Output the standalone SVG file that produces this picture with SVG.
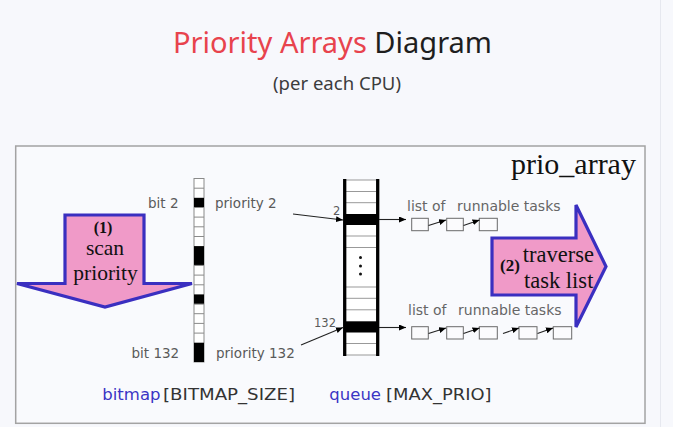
<svg xmlns="http://www.w3.org/2000/svg" width="673" height="427" viewBox="0 0 673 427">
<defs>
<style>
.lbl{font-family:"DejaVu Sans",sans-serif;font-size:13.5px;fill:#5a5a5a}
.sm{font-family:"DejaVu Sans",sans-serif;font-size:11.5px;fill:#5a5a5a}
.lst{font-family:"DejaVu Sans",sans-serif;font-size:14px;fill:#666}
.arr{font-family:"DejaVu Sans",sans-serif;font-size:16.5px}
.tm{font-family:"Liberation Serif",serif;fill:#111}
.big{fill:#f09ac8;stroke:#3a2fc0;stroke-width:3.2}
.cell{fill:none;stroke:#8a8a8a;stroke-width:1}
.qline{fill:none;stroke:#999;stroke-width:1}
.box{fill:#fbfbfd;stroke:#6a6a6a;stroke-width:1}
.con{fill:none;stroke:#222;stroke-width:1.1}
</style>
<marker id="ah" markerUnits="userSpaceOnUse" markerWidth="8" markerHeight="7" refX="7" refY="3" orient="auto">
<path d="M0,0 L7,3 L0,6 z" fill="#000"/>
</marker>
</defs>
<rect x="0" y="0" width="673" height="427" fill="#f7f8fc"/>
<line x1="660.5" y1="0" x2="660.5" y2="427" stroke="#e6e8ef" stroke-width="1"/>

<g id="title">
<text x="173" y="53" font-family="'Noto Sans',sans-serif" font-size="29" textLength="319" lengthAdjust="spacingAndGlyphs"><tspan fill="#e8434d">Priority Arrays</tspan><tspan fill="#1e1e1e"> Diagram</tspan></text>
</g>
<g id="subtitle">
<text x="273" y="90" font-family="'Noto Sans',sans-serif" font-size="18.5" fill="#3c3c3c" textLength="128" lengthAdjust="spacingAndGlyphs">(per each CPU)</text>
</g>

<g id="prio_array">
<rect x="15.7" y="146" width="629.3" height="277.3" fill="#f9fafd" stroke="#a3a3a3" stroke-width="1.5"/>
<text class="tm" x="511" y="173.5" font-size="30">prio_array</text>
</g>

<g id="scan_arrow">
<polygon class="big" points="65,215 144,215 144,283.5 192,283.5 105,307 17,283.5 65,283.5"/>
<text class="tm" x="103" y="232.5" font-size="16" font-weight="bold" text-anchor="middle">(1)</text>
<text class="tm" x="105" y="255" font-size="21.5" text-anchor="middle">scan</text>
<text class="tm" x="105.5" y="279.5" font-size="21.5" text-anchor="middle">priority</text>
</g>

<g id="bitmap">
<rect x="194" y="178.5" width="10" height="183.5" fill="#fff" stroke="#8a8a8a" stroke-width="1"/>
<rect x="194" y="197.8" width="10" height="9.7" fill="#000"/>
<rect x="194" y="246.1" width="10" height="19.3" fill="#000"/>
<rect x="194" y="294.4" width="10" height="9.7" fill="#000"/>
<rect x="194" y="342.7" width="10" height="19.3" fill="#000"/>
<path class="cell" d="M194,188.2h10M194,207.5h10M194,217.1h10M194,226.8h10M194,236.5h10M194,265.4h10M194,275.1h10M194,284.8h10M194,304.1h10M194,313.7h10M194,323.4h10M194,333.1h10"/>
<text class="lbl" x="148" y="208.3">bit 2</text>
<text class="lbl" x="215" y="208.3">priority 2</text>
<text class="lbl" x="131.5" y="358.3">bit 132</text>
<text class="lbl" x="216" y="358.3">priority 132</text>
<text class="arr" x="102.3" y="400" fill="#3b35c4">bitmap</text>
<text class="arr" x="163" y="400" fill="#333" textLength="132" lengthAdjust="spacingAndGlyphs">[BITMAP_SIZE]</text>
</g>

<g id="queue">
<rect x="346" y="180" width="30" height="175" fill="#fff"/>
<rect x="345" y="214" width="32" height="11" fill="#000"/>
<rect x="345" y="321.3" width="32" height="11.2" fill="#000"/>
<path class="qline" d="M346,180h30M346,191.5h30M346,202.7h30M346,236h30M346,247.5h30M346,287h30M346,298.3h30M346,309.8h30M346,343.5h30M346,355h30"/>
<line x1="344.7" y1="179" x2="344.7" y2="356" stroke="#000" stroke-width="3.3"/>
<line x1="377.7" y1="179" x2="377.7" y2="356" stroke="#000" stroke-width="3.3"/>
<circle cx="360.5" cy="257.5" r="1.5" fill="#111"/>
<circle cx="360.5" cy="266" r="1.5" fill="#111"/>
<circle cx="360.5" cy="274" r="1.5" fill="#111"/>
<text class="sm" x="333" y="214.5">2</text>
<text class="sm" x="314" y="327">132</text>
<text class="arr" x="329.3" y="400" fill="#3b35c4">queue</text>
<text class="arr" x="386" y="400" fill="#333" textLength="105.5" lengthAdjust="spacingAndGlyphs">[MAX_PRIO]</text>
</g>

<g id="list_2">
<text class="lst" x="407" y="210.7">list of</text>
<text class="lst" x="457" y="210.7">runnable tasks</text>
<rect class="box" x="411.7" y="218.3" width="16.6" height="12.4"/>
<rect class="box" x="446.7" y="218.3" width="16.6" height="12.4"/>
<rect class="box" x="479.3" y="218.3" width="18" height="12.4"/>
</g>

<g id="list_132">
<text class="lst" x="408" y="315">list of</text>
<text class="lst" x="458" y="315">runnable tasks</text>
<rect class="box" x="411.7" y="326.7" width="16.6" height="12.3"/>
<rect class="box" x="446.7" y="326.7" width="16.6" height="12.3"/>
<rect class="box" x="479.3" y="326.7" width="18" height="12.3"/>
<rect class="box" x="519" y="326.7" width="18" height="12.3"/>
<rect class="box" x="553.3" y="326.7" width="18.4" height="12.3"/>
</g>

<g id="traverse_arrow">
<polygon class="big" points="492,238 576,238 576,205 606,266.5 576,327 576,295 492,295"/>
<text class="tm" x="500" y="270.5" font-size="17" font-weight="bold">(2)</text>
<text class="tm" x="522.7" y="261.5" font-size="22.5">traverse</text>
<text class="tm" x="524" y="287.5" font-size="22.5">task list</text>
</g>

<g id="connectors">
<line class="con" x1="293" y1="214" x2="343" y2="220" marker-end="url(#ah)"/>
<line class="con" x1="301" y1="345" x2="343" y2="327.5" marker-end="url(#ah)"/>
<line class="con" x1="379" y1="219.5" x2="406" y2="219.5" marker-end="url(#ah)"/>
<line class="con" x1="379" y1="327.5" x2="406" y2="327.5" marker-end="url(#ah)"/>
<line class="con" x1="428.5" y1="225.5" x2="446" y2="220" marker-end="url(#ah)"/>
<line class="con" x1="463.5" y1="225.5" x2="479.5" y2="220" marker-end="url(#ah)"/>
<line class="con" x1="428.5" y1="333.5" x2="446" y2="328" marker-end="url(#ah)"/>
<line class="con" x1="463.5" y1="333.5" x2="479.5" y2="328" marker-end="url(#ah)"/>
<line class="con" x1="503" y1="333.5" x2="519" y2="328" marker-end="url(#ah)"/>
<line class="con" x1="537.5" y1="333.5" x2="553" y2="328" marker-end="url(#ah)"/>
</g>
</svg>
